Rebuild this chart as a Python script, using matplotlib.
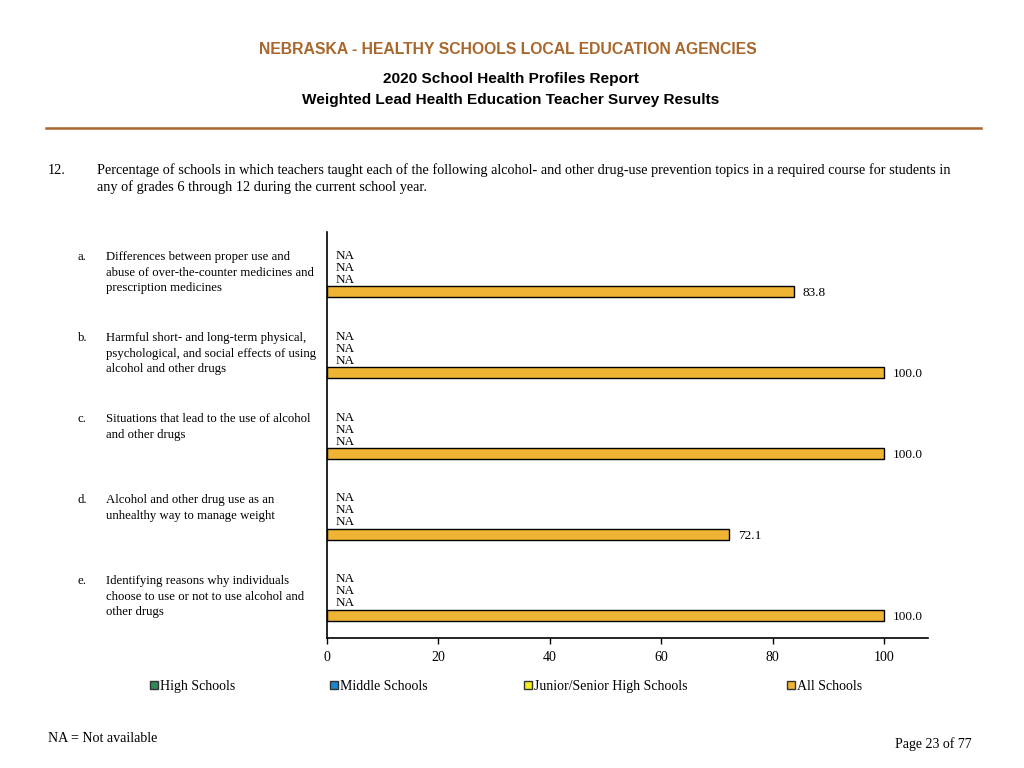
import matplotlib.pyplot as plt
from matplotlib.patches import Rectangle
from matplotlib.lines import Line2D
from matplotlib.transforms import blended_transform_factory

plt.rcParams['font.family'] = ['Liberation Serif', 'DejaVu Serif']

letters = ['a.', 'b.', 'c.', 'd.', 'e.']
topics = [
    'Differences between proper use and\nabuse of over-the-counter medicines and\nprescription medicines',
    'Harmful short- and long-term physical,\npsychological, and social effects of using\nalcohol and other drugs',
    'Situations that lead to the use of alcohol\nand other drugs',
    'Alcohol and other drug use as an\nunhealthy way to manage weight',
    'Identifying reasons why individuals\nchoose to use or not to use alcohol and\nother drugs',
]
series_names = ['High Schools', 'Middle Schools', 'Junior/Senior High Schools', 'All Schools']
series_colors = ['#2E8B57', '#1B87CE', '#F4EF1C', '#EFB434']
high_schools = [None, None, None, None, None]
middle_schools = [None, None, None, None, None]
jrsr_schools = [None, None, None, None, None]
all_schools = [83.8, 100.0, 100.0, 72.1, 100.0]
series = [high_schools, middle_schools, jrsr_schools, all_schools]

group_step = 6.75
brown = '#A8672C'

fig = plt.figure(figsize=(10.24, 7.68), dpi=100)
ax = fig.add_axes([0.3193, 0.1693, 0.5870, 0.5286])

for k, vals in enumerate(series):
    for g, v in enumerate(vals):
        y = g * group_step + k
        if v is None:
            ax.annotate('NA', (0, y), xytext=(6.5, 0), textcoords='offset points',
                        va='center', ha='left', fontsize=9.5)
        else:
            ax.barh(y, v, height=0.9, color=series_colors[k], edgecolor='black', linewidth=1.0)
            ax.annotate('%.1f' % v, (v, y), xytext=(6.5, -1), textcoords='offset points',
                        va='center', ha='left', fontsize=9.5)

ax.set_xlim(0, 107.9)
ax.set_ylim(31.875, -1.96)
ax.set_yticks([])
ax.set_xticks([0, 20, 40, 60, 80, 100])
ax.tick_params(axis='x', length=4, width=1, labelsize=10, pad=5.5)
for s in ['top', 'right']:
    ax.spines[s].set_visible(False)
ax.spines['left'].set_linewidth(1.2)
ax.spines['bottom'].set_linewidth(1.2)

# category labels
tr = blended_transform_factory(fig.transFigure, ax.transData)
for g in range(len(topics)):
    y = g * group_step - 0.35
    ax.text(0.076, y, letters[g], transform=tr, va='top', ha='left', fontsize=9.2)
    ax.text(0.1035, y, topics[g], transform=tr, va='top', ha='left', fontsize=9.2,
            linespacing=1.38)

# header
fig.text(0.496, 1 - 50 / 768, 'NEBRASKA - HEALTHY SCHOOLS LOCAL EDUCATION AGENCIES',
         ha='center', va='center', fontsize=11.3, fontweight='bold', color=brown,
         family='Liberation Sans')
fig.text(0.4985, 1 - 79 / 768, '2020 School Health Profiles Report', ha='center', va='center',
         fontsize=11.1, fontweight='bold', family='Liberation Sans')
fig.text(0.4985, 1 - 100 / 768, 'Weighted Lead Health Education Teacher Survey Results',
         ha='center', va='center', fontsize=11.1, fontweight='bold', family='Liberation Sans')
fig.add_artist(Line2D([46 / 1024, 981 / 1024], [1 - 128 / 768, 1 - 128 / 768],
                      color=brown, linewidth=1.8, transform=fig.transFigure))

fig.text(0.047, 1 - 170 / 768, '12.', ha='left', va='center', fontsize=10.3)
fig.text(0.0947, 1 - 163 / 768,
         'Percentage of schools in which teachers taught each of the following alcohol- and other drug-use prevention topics in a required course for students in\nany of grades 6 through 12 during the current school year.',
         ha='left', va='top', fontsize=10.3, linespacing=1.35)

# legend, drawn item by item so all labels share one baseline
legend_x = [150, 330, 524, 787]
legend_y = 1 - 685 / 768
sq_w, sq_h = 8 / 1024, 8 / 768
for name, color, lx in zip(series_names, series_colors, legend_x):
    fig.add_artist(Rectangle((lx / 1024, legend_y - sq_h / 2), sq_w, sq_h,
                             facecolor=color, edgecolor='#333333', linewidth=1,
                             transform=fig.transFigure))
    fig.text((lx + 10) / 1024, legend_y, name, ha='left', va='center_baseline', fontsize=10)

fig.text(0.047, 1 - 739 / 768, 'NA = Not available', ha='left', va='center', fontsize=10.1)
fig.text(0.949, 1 - 744 / 768, 'Page 23 of 77', ha='right', va='center', fontsize=10)

fig.savefig('out.png', dpi=100)
